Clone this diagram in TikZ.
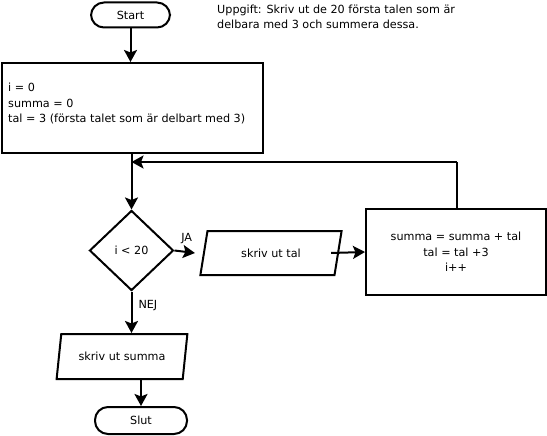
\documentclass[tikz,border=0pt]{standalone}
\usepackage{fontspec}
\setmainfont{DejaVu Sans}
\usetikzlibrary{shapes.geometric,arrows.meta}
\begin{document}
\begin{tikzpicture}[x=1pt,y=-1pt,
  every node/.style={font=\fontsize{11.2}{15.5}\selectfont, inner sep=0pt},
  ln/.style={line width=2pt},
  arr/.style={ln,-{Stealth[length=12pt,width=13pt,inset=2.5pt]}},
  term/.style={draw,ln,rounded corners=13pt,minimum height=25pt},
  box/.style={draw,ln,rectangle},
  dec/.style={draw,ln,diamond,minimum width=84pt,minimum height=80pt,aspect=1.05},
  io/.style={draw,ln,trapezium,trapezium left angle=69,trapezium right angle=111,trapezium stretches=true,minimum height=44pt}]
\useasboundingbox (0,0) rectangle (547,436);
\node[term,minimum width=79pt] (start) at (130.5,15) {Start};
\node[anchor=north west,align=left] (task) at (217,4.5) {Uppgift: Skriv ut de 20 första talen som är\\delbara med 3 och summera dessa.};
\node[box,minimum width=261pt,minimum height=90pt] (init) at (132.5,108) {};
\node[anchor=west,align=left] (inittxt) at (8,103.5) {i = 0\\summa = 0\\tal = 3 (första talet som är delbart med 3)};
\node[dec] (cond) at (131.5,250.5) {i < 20};
\node[io,minimum width=142pt] (out1) at (271,253) {skriv ut tal};
\node[box,minimum width=180pt,minimum height=86pt,align=center] (upd) at (456,252) {summa = summa + tal\\tal = tal +3\\i++};
\node[io,minimum width=132pt,minimum height=45pt] (out2) at (122,356.5) {skriv ut summa};
\node[term,minimum width=92pt,minimum height=27pt] (slut) at (141,420.5) {Slut};
\coordinate (loopR) at (457,162);
\coordinate (loopL) at (131.5,162);
\draw[arr] (start.south) -- (start.south |- init.north);
\draw[arr] (cond.north |- init.south) -- (cond.north);
\draw[arr] (cond.east) -- node[above=7pt,pos=0.6] (ja) {JA} ([xshift=-8pt]out1.west);
\draw[arr] ([xshift=-8pt]out1.east) -- (upd.west);
\draw[ln] (upd.north -| loopR) -- (loopR);
\draw[arr] (loopR) -- (loopL);
\draw[arr] (cond.south) -- node[right,pos=0.35,xshift=6pt] (nej) {NEJ} (cond.south |- out2.north);
\draw[arr] (out2.south -| slut.north) -- (slut.north);
\end{tikzpicture}
\end{document}
